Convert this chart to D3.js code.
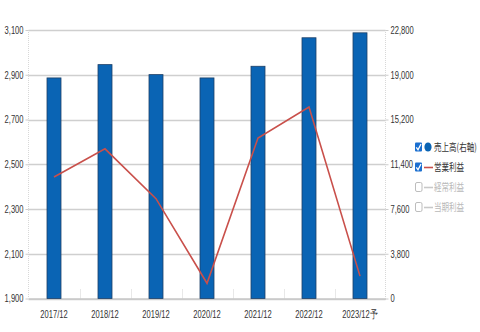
<!DOCTYPE html>
<html>
<head>
<meta charset="utf-8">
<script src="https://cdn.jsdelivr.net/npm/d3@7"></script>
<style>
  html, body { margin: 0; padding: 0; background: #fff; }
  svg { display: block; font-family: "Liberation Sans", Arial, sans-serif; }
</style>
</head>
<body>
<svg id="chart" width="480" height="332"></svg>
<script>
// Fiscal periods
const categories = ["2017/12", "2018/12", "2019/12", "2020/12", "2021/12", "2022/12", "2023/12予"];
// 売上高 (right axis)
const sales = [18730, 19860, 19010, 18730, 19720, 22140, 22560];
// 営業利益 (left axis)
const operatingProfit = [2443, 2569, 2346, 1968, 2617, 2756, 2000];
// Axis ticks
const leftTicks = [1900, 2100, 2300, 2500, 2700, 2900, 3100];
const rightTicks = [0, 3800, 7600, 11400, 15200, 19000, 22800];
// Legend entries
const legendItems = [
  { label: "売上高(右軸)", kind: "circle", on: true },
  { label: "営業利益", kind: "line", on: true },
  { label: "経常利益", kind: "line", on: false },
  { label: "当期利益", kind: "line", on: false }
];

const svg = d3.select("#chart");
const plotL = 28.5, plotR = 385.5, plotT = 30, plotB = 298.5;
const squeeze = 0.72;

const x = d3.scaleBand().domain(categories).range([plotL, plotR]);
const yL = d3.scaleLinear().domain([1900, 3100]).range([plotB, plotT]);
const yR = d3.scaleLinear().domain([0, 22800]).range([plotB, plotT]);

// horizontally condensed text helper
function narrow(sel) {
  sel.each(function () {
    const w = this.getComputedTextLength();
    d3.select(this).attr("textLength", w * squeeze).attr("lengthAdjust", "spacingAndGlyphs");
  });
}

// gridlines
svg.append("g").selectAll("line").data(leftTicks).join("line")
  .attr("x1", plotL).attr("x2", plotR)
  .attr("y1", d => Math.round(yL(d)) + 0.5).attr("y2", d => Math.round(yL(d)) + 0.5)
  .attr("stroke", "#cfcfcf").attr("stroke-width", 1.3);

// side axis lines
svg.append("line").attr("x1", plotL).attr("x2", plotL).attr("y1", plotT).attr("y2", plotB)
  .attr("stroke", "#d8d8d8").attr("stroke-dasharray", "1,1");
svg.append("line").attr("x1", plotR).attr("x2", plotR).attr("y1", plotT).attr("y2", plotB)
  .attr("stroke", "#d8d8d8").attr("stroke-dasharray", "1,1");

// category separators at the base
svg.append("g").selectAll("line").data(categories.slice(1)).join("line")
  .attr("x1", d => Math.round(x(d)) + 0.5).attr("x2", d => Math.round(x(d)) + 0.5)
  .attr("y1", plotB - 9).attr("y2", plotB)
  .attr("stroke", "#d0d0d0").attr("stroke-dasharray", "1,1");

// left axis
const gl = svg.append("g").attr("transform", `translate(${plotL},0)`)
  .call(d3.axisLeft(yL).tickValues(leftTicks).tickFormat(d3.format(",")).tickSize(3).tickPadding(2));
gl.select(".domain").remove();
gl.selectAll(".tick line").attr("stroke", "#ccc");
gl.selectAll("text").attr("fill", "#333").attr("font-size", 10.5).call(narrow);

// right axis
const gr = svg.append("g").attr("transform", `translate(${plotR},0)`)
  .call(d3.axisRight(yR).tickValues(rightTicks).tickFormat(d3.format(",")).tickSize(3).tickPadding(2));
gr.select(".domain").remove();
gr.selectAll(".tick line").attr("stroke", "#ccc");
gr.selectAll("text").attr("fill", "#333").attr("font-size", 10.5).call(narrow);

// bottom axis
const gb = svg.append("g").attr("transform", `translate(0,${plotB})`)
  .call(d3.axisBottom(x).tickSize(0).tickPadding(12));
gb.select(".domain").attr("stroke", "#c8c8c8").attr("stroke-width", 1.5);
gb.selectAll("text").attr("fill", "#333").attr("font-size", 10.5).call(narrow);

// sales bars
const bw = 14;
svg.append("g").selectAll("rect").data(sales).join("rect")
  .attr("x", (d, i) => x(categories[i]) + x.bandwidth() / 2 - bw / 2)
  .attr("y", d => yR(d))
  .attr("width", bw)
  .attr("height", d => yR(0) - yR(d))
  .attr("fill", "#0a64b4")
  .attr("stroke", "#1d3f66").attr("stroke-width", 0.8);

// operating profit line
const line = d3.line()
  .x((d, i) => x(categories[i]) + x.bandwidth() / 2)
  .y(d => yL(d));
svg.append("path").datum(operatingProfit)
  .attr("d", line)
  .attr("fill", "none").attr("stroke", "#c9504b").attr("stroke-width", 1.6);

// legend
const lg = svg.append("g").attr("transform", "translate(415,147)");
legendItems.forEach((it, i) => {
  const g = lg.append("g").attr("transform", `translate(0,${i * 20})`);
  const col = it.on ? "#333" : "#b8b8b8";
  if (it.on) {
    g.append("rect").attr("x", 0).attr("y", -4.5).attr("width", 7).attr("height", 9).attr("rx", 1)
      .attr("fill", "#1a6fd0");
    g.append("path").attr("d", "M1.3,0.3 L3,2.8 L6,-3").attr("fill", "none")
      .attr("stroke", "#fff").attr("stroke-width", 1.3);
  } else {
    g.append("rect").attr("x", 0.5).attr("y", -4.5).attr("width", 6.5).attr("height", 9).attr("rx", 1.5)
      .attr("fill", "#fff").attr("stroke", "#bdbdbd");
  }
  if (it.kind === "circle") {
    g.append("ellipse").attr("cx", 13).attr("cy", 0).attr("rx", 3.6).attr("ry", 4.6).attr("fill", "#0a64b4");
  } else {
    g.append("line").attr("x1", 9).attr("x2", 18).attr("y1", 0.5).attr("y2", 0.5)
      .attr("stroke", it.on ? "#c9504b" : "#c8c8c8").attr("stroke-width", 1.6);
  }
  g.append("text")
    .attr("transform", `translate(19,3.8) scale(${squeeze},1)`)
    .attr("font-size", 10.5)
    .attr("font-family", "'Noto Sans CJK JP', sans-serif")
    .attr("fill", col).text(it.label);
});
</script>
</body>
</html>
